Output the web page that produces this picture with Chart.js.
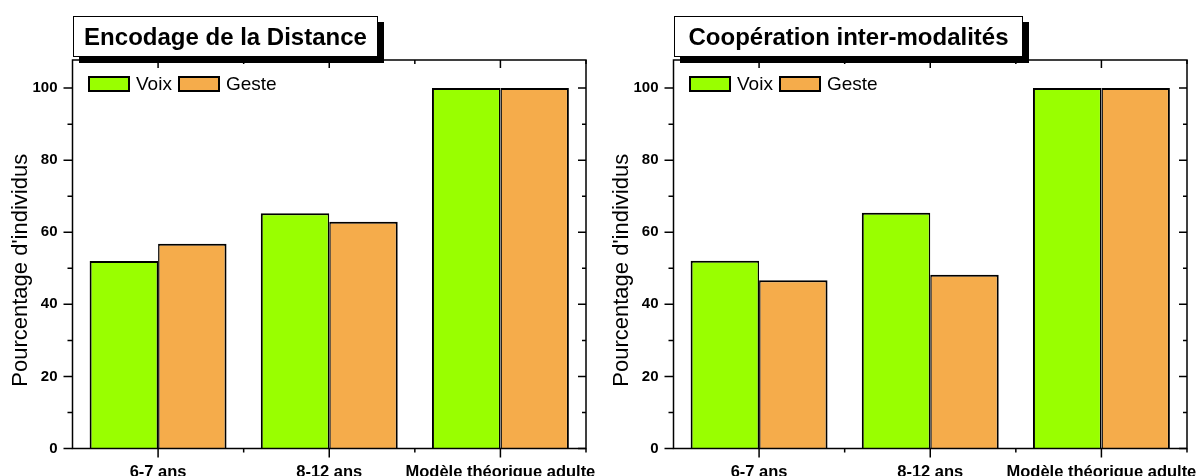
<!DOCTYPE html>
<html>
<head>
<meta charset="utf-8">
<script src="https://cdn.jsdelivr.net/npm/chart.js@4"></script>
<style>
  body { margin: 0; background: #fff; font-family: 'Liberation Sans', Arial, sans-serif; }
  .panel { position: absolute; top: 0; height: 476px; }
  .titre {
    position: absolute; top: 16px; left: 73px; height: 41px; box-sizing: border-box;
    border: 1px solid #000; background: #fff; box-shadow: 6px 6px 0 #000;
    font-weight: bold; font-size: 24px; line-height: 39px; text-align: center; color: #000;
  }
  .legende { position: absolute; left: 88px; top: 73px; display: flex; align-items: center; font-size: 19px; color: #000; }
  .legende span.boite { display: inline-block; width: 42px; height: 16px; box-sizing: border-box; border: 2px solid #000; margin-right: 6px; }
  .legende span.txt { margin-right: 6px; }
</style>
</head>
<body>
<script>
const categories = ['6-7 ans', '8-12 ans', 'Modèle théorique adulte']
const seriesNames = ['Voix', 'Geste']
const voixDistance = [52.0, 65.3, 100]
const gesteDistance = [56.8, 62.9, 100]
const voixCooperation = [52.1, 65.4, 100]
const gesteCooperation = [46.7, 48.2, 100]
const yTicks = [0, 20, 40, 60, 80, 100]
const yMinor = [10, 30, 50, 70, 90]
const titles = ['Encodage de la Distance', 'Coopération inter-modalités']
const yTitle = "Pourcentage d'individus"

let colors = ['#99FF00', '#F5AC4B']
// bord commun entre les deux barres d'un groupe : un seul trait
let borders = [
    { top: 2, left: 2, right: 1.5, bottom: 0 },
    { top: 2, left: 1.5, right: 2, bottom: 0 }
]

Chart.defaults.font.family = "'Liberation Sans', Arial, sans-serif"
Chart.defaults.color = '#000'

// cadre complet + graduations (majeures / mineures, dedans et dehors) + titre de l'axe y
const cadre = {
    id: 'cadre',
    afterDraw(chart) {
        let ctx = chart.ctx
        let a = chart.chartArea
        let x = chart.scales.x
        let y = chart.scales.y
        ctx.save()
        ctx.strokeStyle = '#000'
        ctx.lineWidth = 1.5
        ctx.strokeRect(a.left, a.top, a.right - a.left, a.bottom - a.top)
        ctx.beginPath()
        yTicks.forEach(v => {
            let py = y.getPixelForValue(v)
            ctx.moveTo(a.left - 9, py); ctx.lineTo(a.left, py)
            ctx.moveTo(a.right, py); ctx.lineTo(a.right - 8, py)
        })
        yMinor.forEach(v => {
            let py = y.getPixelForValue(v)
            ctx.moveTo(a.left - 5, py); ctx.lineTo(a.left, py)
            ctx.moveTo(a.right, py); ctx.lineTo(a.right - 4, py)
        })
        categories.forEach((_, i) => {
            let px = x.getPixelForValue(i)
            ctx.moveTo(px, a.bottom); ctx.lineTo(px, a.bottom + 9)
            ctx.moveTo(px, a.top); ctx.lineTo(px, a.top + 8)
            let pm = x.getPixelForValue(i + 0.5)
            ctx.moveTo(pm, a.bottom); ctx.lineTo(pm, a.bottom + 4)
            ctx.moveTo(pm, a.top); ctx.lineTo(pm, a.top + 4)
        })
        ctx.stroke()

        // titre vertical, un peu plus bas que le centre comme dans l'original
        ctx.translate(26.5, (a.top + a.bottom) / 2 + 16)
        ctx.rotate(-Math.PI / 2)
        ctx.font = "22px 'Liberation Sans', Arial, sans-serif"
        ctx.fillStyle = '#000'
        ctx.textAlign = 'center'
        ctx.textBaseline = 'alphabetic'
        ctx.fillText(yTitle, 0, 0)
        ctx.restore()
    }
}

function renderChart(left, width, title, titleWidth, voix, geste) {
    let panel = document.createElement('div')
    panel.className = 'panel'
    panel.style.left = left + 'px'
    panel.style.width = width + 'px'
    let canvas = document.createElement('canvas')
    canvas.width = width
    canvas.height = 476
    panel.append(canvas)

    let legende = document.createElement('div')
    legende.className = 'legende'
    seriesNames.forEach((name, i) => {
        let boite = document.createElement('span')
        boite.className = 'boite'
        boite.style.background = colors[i]
        let txt = document.createElement('span')
        txt.className = 'txt'
        txt.textContent = name
        legende.append(boite, txt)
    })
    panel.append(legende)

    let titre = document.createElement('div')
    titre.className = 'titre'
    titre.style.width = titleWidth + 'px'
    titre.textContent = title
    panel.append(titre)
    document.body.append(panel)

    new Chart(canvas.getContext('2d'), {
        type: 'bar',
        data: {
            labels: categories,
            datasets: [voix, geste].map((d, i) => ({
                label: seriesNames[i],
                data: d,
                backgroundColor: colors[i],
                borderColor: '#000',
                borderWidth: borders[i],
                borderSkipped: false,
                categoryPercentage: 0.8,
                barPercentage: 1.0
            }))
        },
        options: {
            responsive: false,
            animation: false,
            layout: { padding: { top: 60, right: width - 586, bottom: 0, left: 0 } },
            plugins: { legend: { display: false }, tooltip: { enabled: false } },
            scales: {
                x: {
                    offset: true,
                    afterFit: s => { s.height = 27.5; s.paddingLeft = 0; s.paddingRight = 0 },
                    grid: { offset: false, drawOnChartArea: false, tickLength: 9, tickColor: 'rgba(0,0,0,0)' },
                    border: { display: false },
                    ticks: { font: { size: 16.5, weight: 'bold' }, padding: 5, maxRotation: 0, autoSkip: false }
                },
                y: {
                    min: 0,
                    max: 107.8,
                    afterFit: s => { s.width = 72.5; s.paddingTop = 0; s.paddingBottom = 0 },
                    grid: { drawOnChartArea: false, tickLength: 9, tickColor: 'rgba(0,0,0,0)' },
                    border: { display: false },
                    afterBuildTicks: s => { s.ticks = yTicks.map(v => ({ value: v })) },
                    ticks: { font: { size: 15, weight: 'bold' }, padding: 6 },
                    title: { display: false }
                }
            }
        },
        plugins: [cadre]
    })
}

renderChart(0, 599, titles[0], 305, voixDistance, gesteDistance)
renderChart(601, 597, titles[1], 349, voixCooperation, gesteCooperation)
</script>
</body>
</html>
